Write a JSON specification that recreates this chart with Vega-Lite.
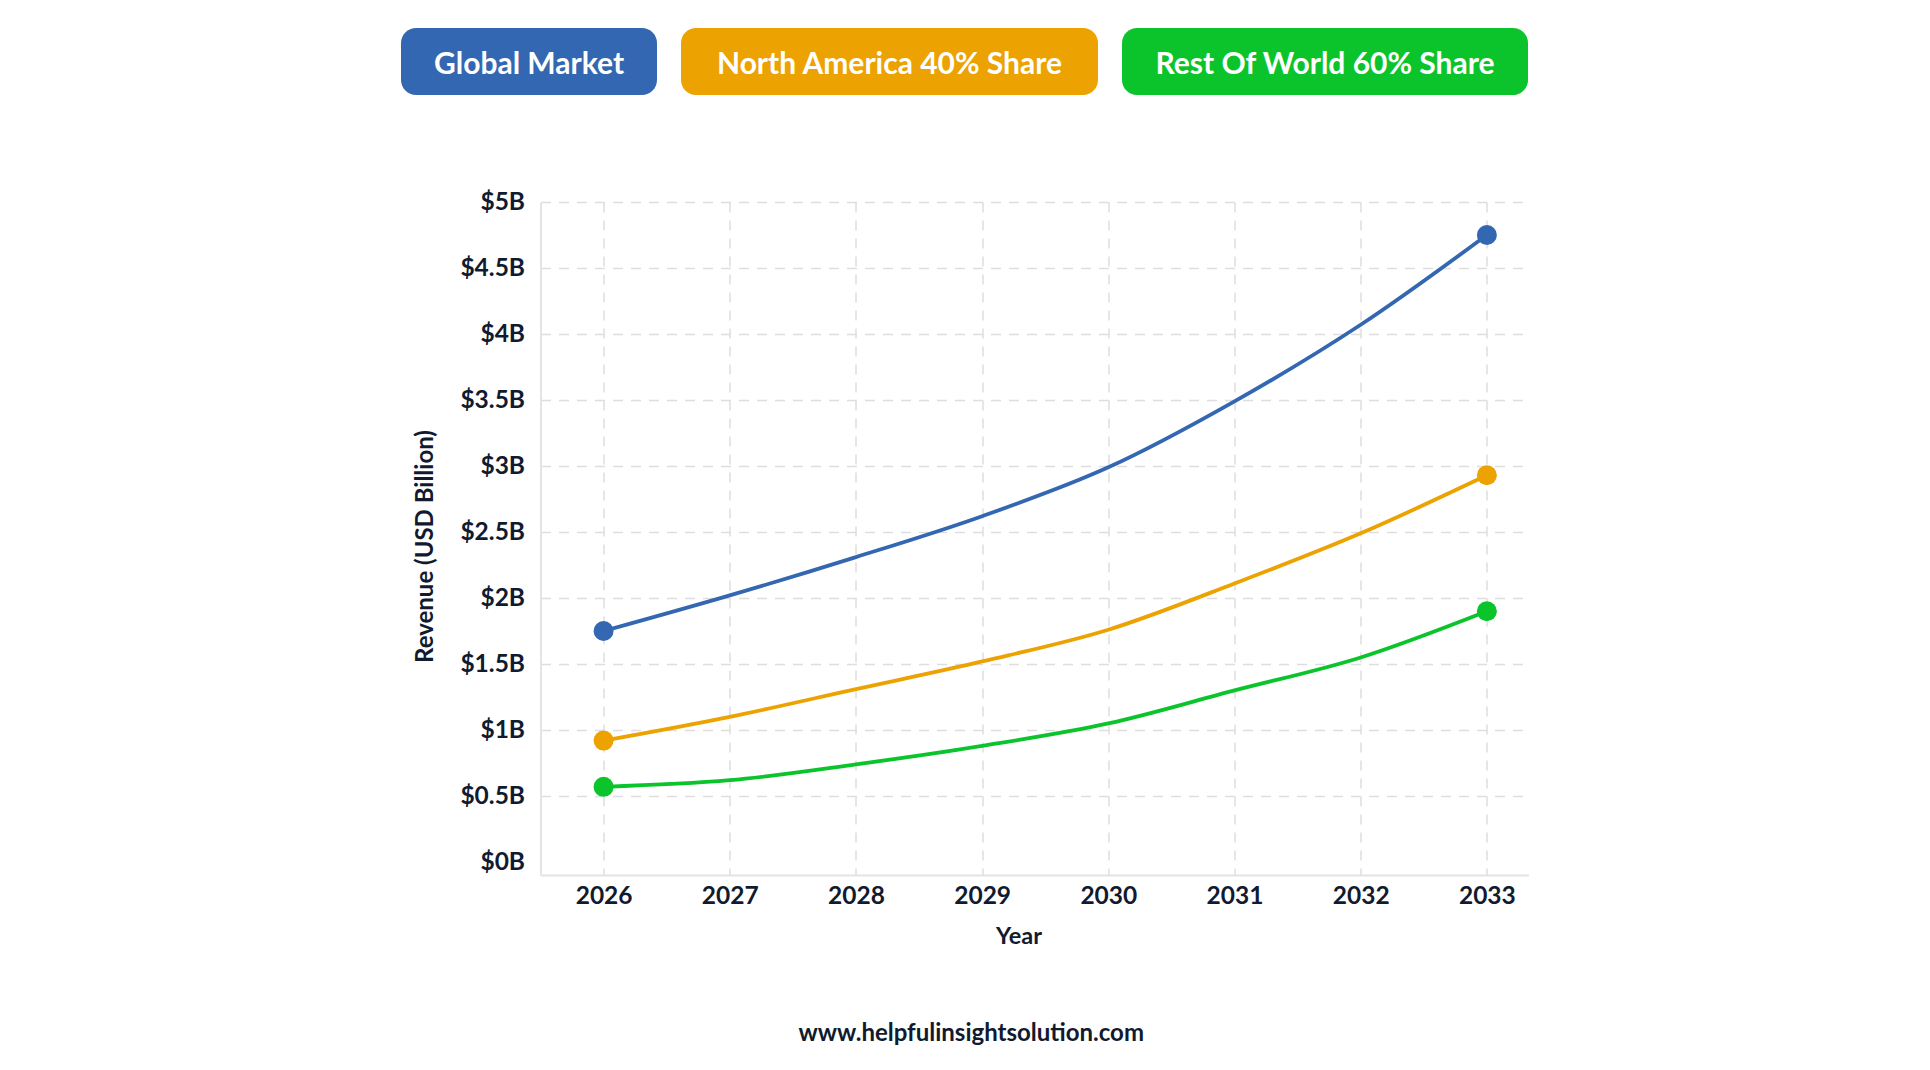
{
  "$schema": "https://vega.github.io/schema/vega-lite/v6.json",
  "padding": {"left": 401, "top": 28, "right": 0, "bottom": 0},
  "background": "white",
  "config": {"view": {"stroke": null}, "font": "Lato"},
  "datasets": {
    "rev": [
      {"year": 2026, "series": "Global Market", "value": 1.75},
      {"year": 2027, "series": "Global Market", "value": 2.02},
      {"year": 2028, "series": "Global Market", "value": 2.31},
      {"year": 2029, "series": "Global Market", "value": 2.62},
      {"year": 2030, "series": "Global Market", "value": 2.99},
      {"year": 2031, "series": "Global Market", "value": 3.49},
      {"year": 2032, "series": "Global Market", "value": 4.07},
      {"year": 2033, "series": "Global Market", "value": 4.75},
      {"year": 2026, "series": "North America 40% Share", "value": 0.92},
      {"year": 2027, "series": "North America 40% Share", "value": 1.10},
      {"year": 2028, "series": "North America 40% Share", "value": 1.31},
      {"year": 2029, "series": "North America 40% Share", "value": 1.52},
      {"year": 2030, "series": "North America 40% Share", "value": 1.76},
      {"year": 2031, "series": "North America 40% Share", "value": 2.11},
      {"year": 2032, "series": "North America 40% Share", "value": 2.49},
      {"year": 2033, "series": "North America 40% Share", "value": 2.93},
      {"year": 2026, "series": "Rest Of World 60% Share", "value": 0.57},
      {"year": 2027, "series": "Rest Of World 60% Share", "value": 0.62},
      {"year": 2028, "series": "Rest Of World 60% Share", "value": 0.74},
      {"year": 2029, "series": "Rest Of World 60% Share", "value": 0.88},
      {"year": 2030, "series": "Rest Of World 60% Share", "value": 1.05},
      {"year": 2031, "series": "Rest Of World 60% Share", "value": 1.30},
      {"year": 2032, "series": "Rest Of World 60% Share", "value": 1.55},
      {"year": 2033, "series": "Rest Of World 60% Share", "value": 1.90}
    ],
    "btn": [
      {"series": "Global Market"},
      {"series": "North America 40% Share"},
      {"series": "Rest Of World 60% Share"}
    ]
  },
  "spacing": 94,
  "center": true,
  "vconcat": [
    {
      "spacing": 24,
      "hconcat": [
        {
          "width": 256, "height": 67,
          "data": {"name": "btn"},
          "transform": [{"filter": "datum.series === 'Global Market'"}],
          "layer": [
            {"mark": {"type": "rect", "cornerRadius": 15},
             "encoding": {"color": {"field": "series", "type": "nominal", "scale": {"domain": ["Global Market", "North America 40% Share", "Rest Of World 60% Share"], "range": ["#3467b1", "#eca200", "#0bc42b"]}, "legend": null}}},
            {"mark": {"type": "text", "color": "white", "font": "Lato", "fontSize": 30, "fontWeight": "bold", "dy": 3},
             "encoding": {"text": {"field": "series"}}}
          ]
        },
        {
          "width": 417, "height": 67,
          "data": {"name": "btn"},
          "transform": [{"filter": "datum.series === 'North America 40% Share'"}],
          "layer": [
            {"mark": {"type": "rect", "cornerRadius": 15},
             "encoding": {"color": {"field": "series", "type": "nominal", "scale": {"domain": ["Global Market", "North America 40% Share", "Rest Of World 60% Share"], "range": ["#3467b1", "#eca200", "#0bc42b"]}, "legend": null}}},
            {"mark": {"type": "text", "color": "white", "font": "Lato", "fontSize": 30, "fontWeight": "bold", "dy": 3},
             "encoding": {"text": {"field": "series"}}}
          ]
        },
        {
          "width": 406, "height": 67,
          "data": {"name": "btn"},
          "transform": [{"filter": "datum.series === 'Rest Of World 60% Share'"}],
          "layer": [
            {"mark": {"type": "rect", "cornerRadius": 15},
             "encoding": {"color": {"field": "series", "type": "nominal", "scale": {"domain": ["Global Market", "North America 40% Share", "Rest Of World 60% Share"], "range": ["#3467b1", "#eca200", "#0bc42b"]}, "legend": null}}},
            {"mark": {"type": "text", "color": "white", "font": "Lato", "fontSize": 30, "fontWeight": "bold", "dy": 3},
             "encoding": {"text": {"field": "series"}}}
          ]
        },
        {
          "width": 116, "height": 67,
          "data": {"name": "btn"},
          "transform": [{"filter": "datum.series === 'Global Market'"}],
          "mark": {"type": "rect", "opacity": 0}
        }
      ]
    },
    {
      "width": 988,
      "height": 673,
      "data": {"name": "rev"},
      "title": {
        "text": "www.helpfulinsightsolution.com",
        "orient": "bottom",
        "anchor": "middle",
        "frame": "bounds",
        "offset": 74,
        "font": "Lato",
        "fontSize": 24,
        "fontWeight": "bold",
        "color": "#111a2e"
      },
      "encoding": {
        "x": {
          "field": "year", "type": "quantitative",
          "scale": {"domain": [2025.5, 2033.33], "nice": false, "zero": false},
          "axis": {
            "title": "Year",
            "titleX": 478,
            "values": [2026, 2027, 2028, 2029, 2030, 2031, 2032, 2033],
            "format": "d",
            "labelFont": "Lato", "labelFontSize": 24.5, "labelFontWeight": "bold", "labelColor": "#111a2e",
            "labelPadding": 9, "labelFlush": false, "labelDx": -7,
            "ticks": false,
            "domainColor": "#e4e4e4", "domainWidth": 2,
            "grid": true, "gridColor": "#dedede", "gridDash": [10, 8], "gridWidth": 1.5,
            "titleFont": "Lato", "titleFontSize": 23.5, "titleFontWeight": "bold", "titleColor": "#111a2e",
            "titlePadding": 17
          }
        },
        "y": {
          "field": "value", "type": "quantitative",
          "scale": {"domain": [-0.098, 5], "nice": false, "zero": false},
          "axis": {
            "title": "Revenue (USD Billion)",
            "titleY": 344,
            "values": [0, 0.5, 1, 1.5, 2, 2.5, 3, 3.5, 4, 4.5, 5],
            "labelExpr": "'$' + datum.value + 'B'",
            "labelFont": "Lato", "labelFontSize": 24.5, "labelFontWeight": "bold", "labelColor": "#111a2e",
            "labelPadding": 16, "labelFlush": false,
            "ticks": false,
            "domainColor": "#e4e4e4", "domainWidth": 2,
            "grid": true, "gridColor": "#dedede", "gridDash": [10, 8], "gridWidth": 1.5,
            "gridOpacity": {"condition": {"test": "datum.value === 0", "value": 0}, "value": 1},
            "titleFont": "Lato", "titleFontSize": 24, "titleFontWeight": "bold", "titleColor": "#111a2e",
            "titlePadding": 22
          }
        },
        "color": {
          "field": "series", "type": "nominal",
          "scale": {"domain": ["Global Market", "North America 40% Share", "Rest Of World 60% Share"], "range": ["#3467b1", "#eca200", "#0bc42b"]},
          "legend": null
        }
      },
      "layer": [
        {"mark": {"type": "line", "interpolate": "monotone", "strokeWidth": 3.8}},
        {
          "transform": [{"filter": "datum.year == 2026 || datum.year == 2033"}],
          "mark": {"type": "point", "filled": true, "opacity": 1, "size": 400}
        }
      ]
    }
  ]
}
